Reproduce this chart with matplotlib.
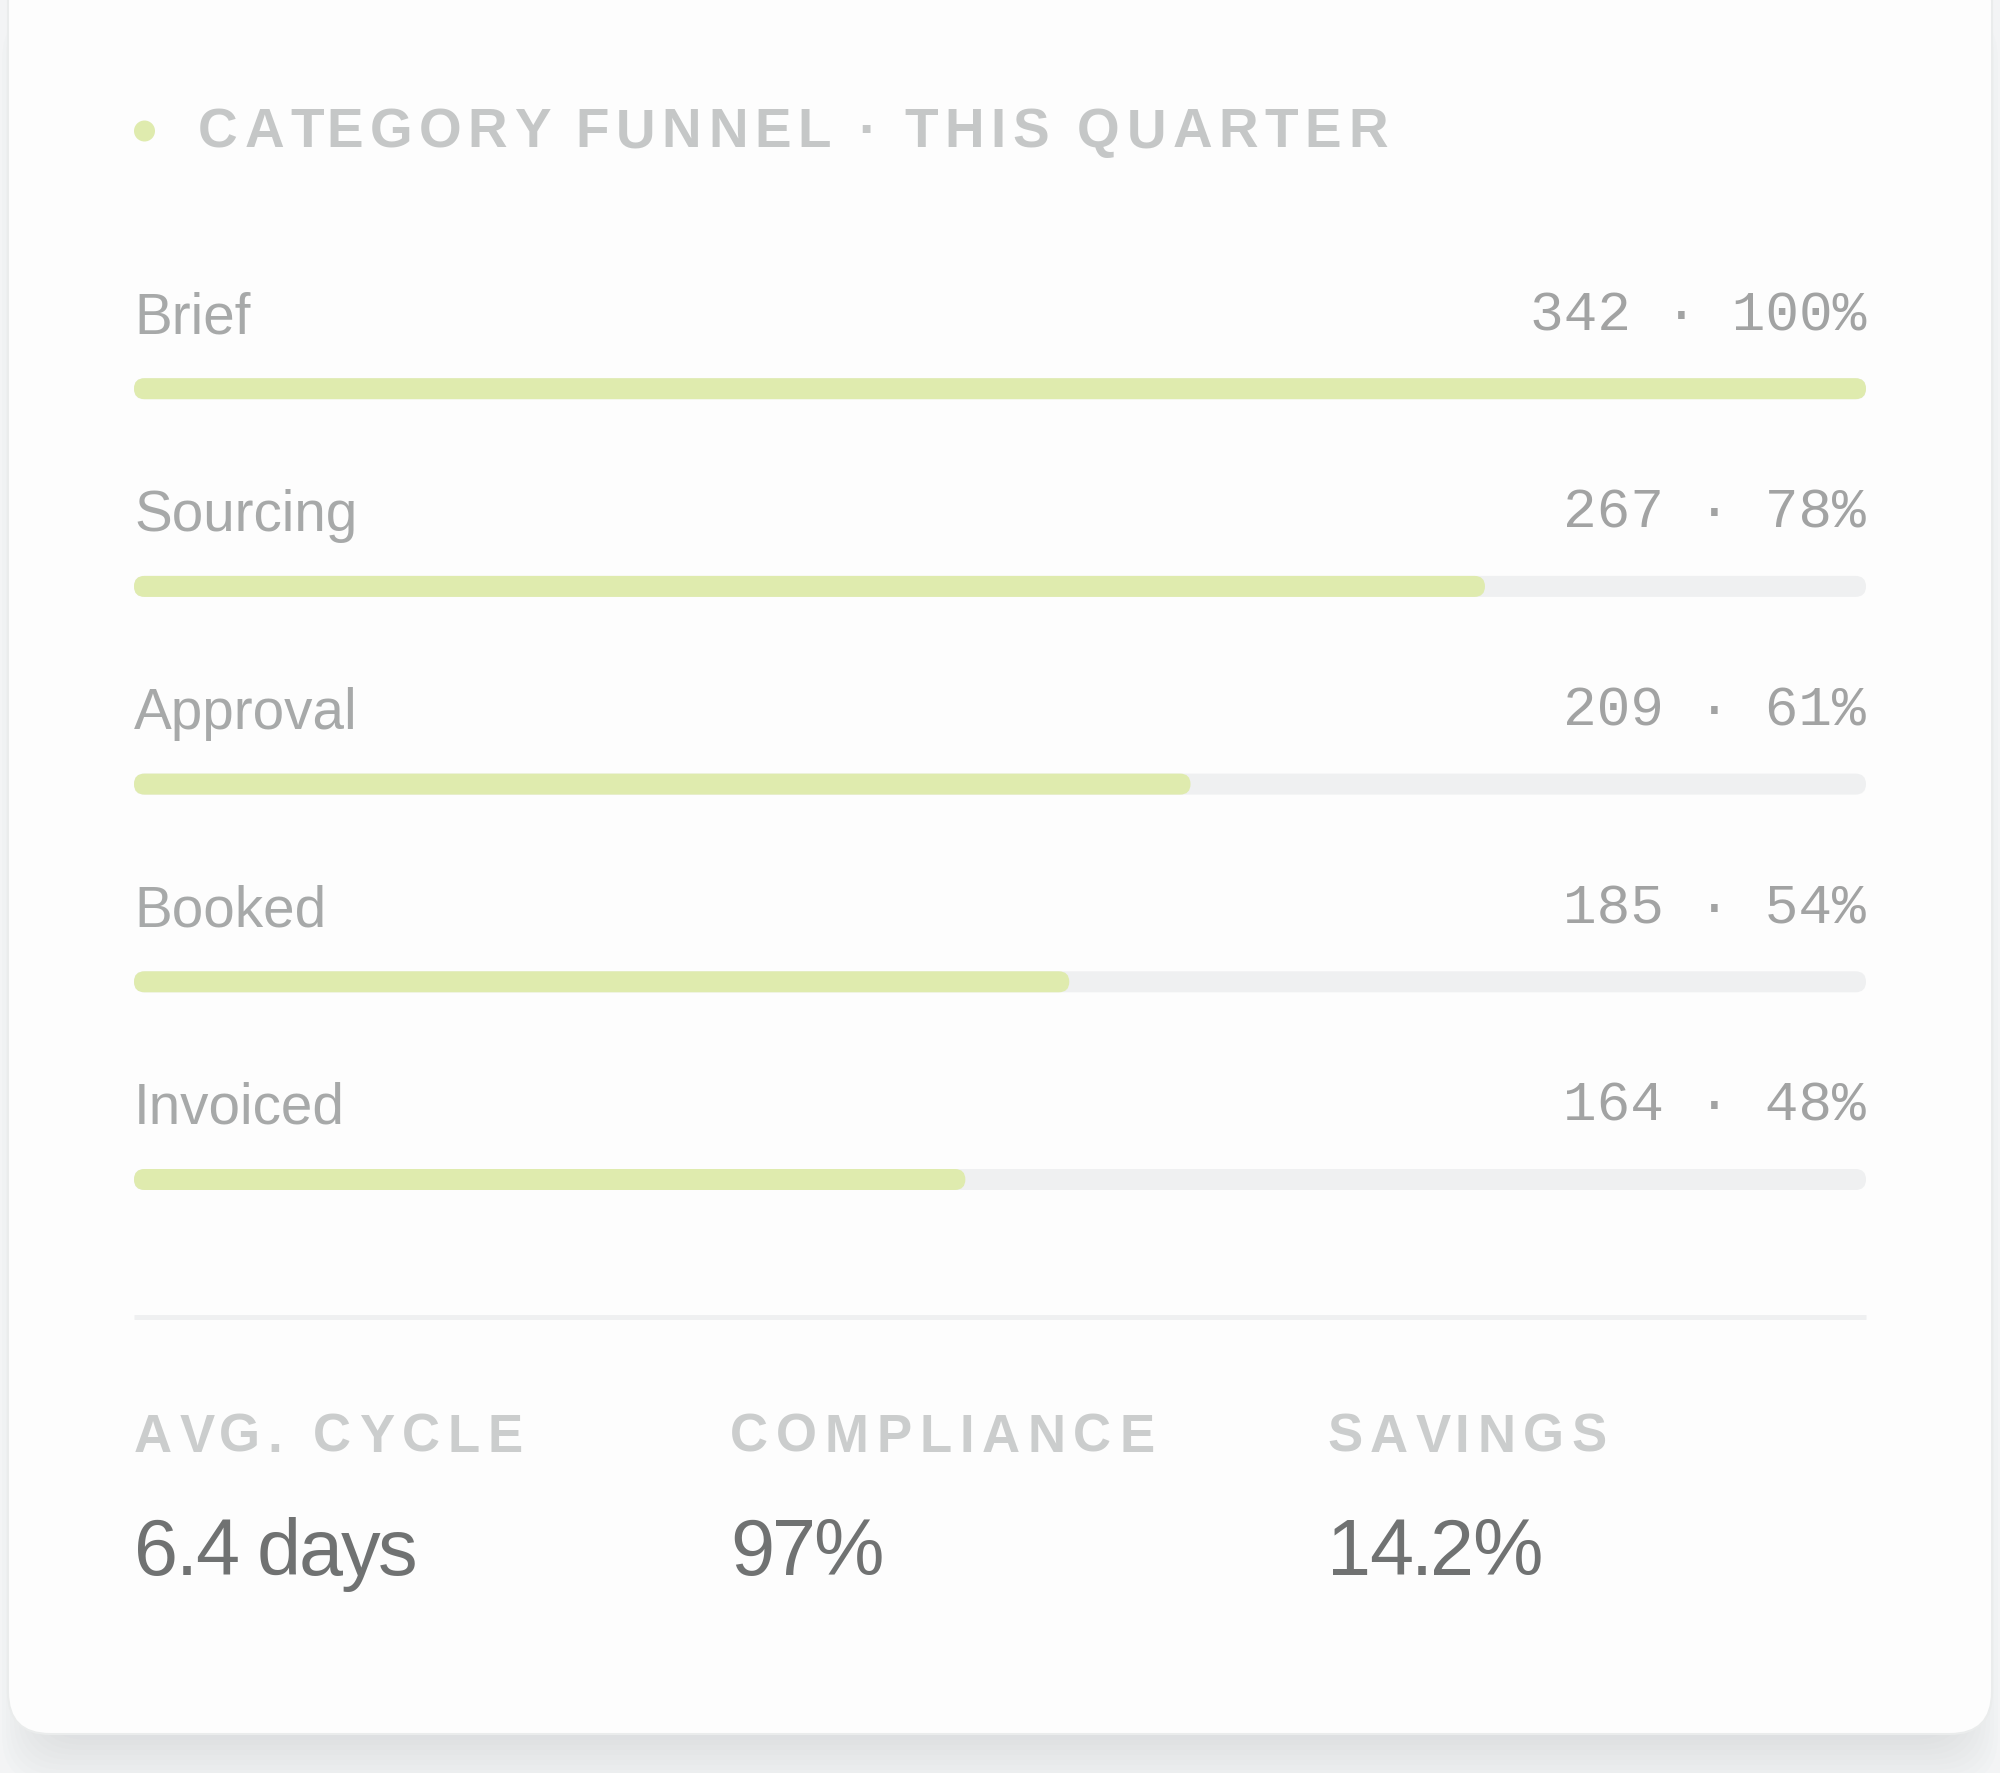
import matplotlib.pyplot as plt
from matplotlib.patches import FancyBboxPatch, Circle
from matplotlib.transforms import offset_copy

# funnel data
stages = ["Brief", "Sourcing", "Approval", "Booked", "Invoiced"]
counts = [342, 267, 209, 185, 164]
shares = [100, 78, 61, 54, 48]

# footer kpis
kpi_labels = ["AVG. CYCLE", "COMPLIANCE", "SAVINGS"]
kpi_values = ["6.4 days", "97%", "14.2%"]

title = "CATEGORY FUNNEL · THIS QUARTER"

GREEN = "#dfebae"
TRACK = "#eff0f1"
SANS = "Liberation Sans"
MONO = "Liberation Mono"

W, H, DPI = 2000, 1774, 100
fig = plt.figure(figsize=(W / DPI, H / DPI), dpi=DPI, facecolor="#f3f4f5")

# pixel canvas for card / title / footer
bg = fig.add_axes([0, 0, 1, 1])
bg.set_xlim(0, W)
bg.set_ylim(H, 0)
bg.axis("off")

# soft shadow under the card
for k in range(10):
    bg.add_patch(FancyBboxPatch((8 + 30 - k * 4, -40 + 6 + k * 5), 1984 - 60 + k * 8, 1775,
                                boxstyle="round,pad=0,rounding_size=50",
                                fc="#c4c8cc", ec="none", alpha=0.045))
bg.add_patch(FancyBboxPatch((8, -40), 1984, 1775, boxstyle="round,pad=0,rounding_size=42",
                            fc="#fdfdfd", ec="#eaecec", lw=1.5))

renderer = fig.canvas.get_renderer()


def tracked(x, y, s, track, **kw):
    """draw text char by char with extra letter spacing (px)"""
    probe = bg.text(0, 0, "|", **kw)
    base = probe.get_window_extent(renderer).width
    probe.remove()
    for k, ch in enumerate(s):
        if ch == " ":
            continue
        probe = bg.text(0, 0, s[:k] + "|", **kw)
        off = probe.get_window_extent(renderer).width - base if k else 0
        probe.remove()
        bg.text(x + off + k * track, y, ch, ha="left", va="baseline", **kw)


# title
bg.add_patch(Circle((144.5, 132), 10.5, fc=GREEN, ec="none"))
tracked(198, 147, title, 6.5, fontsize=39.5, fontweight="bold", color="#c5c7c7", family=SANS)

# funnel bars
x0, x1 = 134, 1866
row0, step, bar_px = 389.7, 197.7, 21
top_px, bot_px = 200, 1280
ax = fig.add_axes([x0 / W, 1 - bot_px / H, (x1 - x0) / W, (bot_px - top_px) / H])
ax.set_xlim(0, 100)
ax.set_ylim((bot_px - row0) / step, (top_px - row0) / step)
ax.axis("off")

n = len(stages)
bar_h = bar_px / step
px_x = (x1 - x0) / 100.0
aspect = px_x / step
tracks = ax.barh(range(n), [100] * n, height=bar_h, color=TRACK)
fills = ax.barh(range(n), shares, height=bar_h, color=GREEN)
for cont in (tracks, fills):
    for p in cont.patches:
        bx, by, bw, bh = p.get_x(), p.get_y(), p.get_width(), p.get_height()
        p.set_visible(False)
        ax.add_patch(FancyBboxPatch((bx, by), bw, bh,
                                    boxstyle=f"round,pad=0,rounding_size={bar_px / 2 / px_x}",
                                    mutation_aspect=aspect, fc=p.get_facecolor(), ec="none"))

lab_tr = offset_copy(ax.transData, fig=fig, y=56.5, units="dots")
val_tr = offset_copy(ax.transData, fig=fig, y=59.5, units="dots")
for i, (name, c, s) in enumerate(zip(stages, counts, shares)):
    ax.text(0, i, name, transform=lab_tr, ha="left", va="baseline",
            fontsize=40.8, color="#a7a9a9", family=SANS)
    ax.text(100, i, f"{c} · {s}%", transform=val_tr, ha="right", va="baseline",
            fontsize=40.4, color="#a2a3a3", family=MONO)

# divider + kpis
bg.plot([x0, x1], [1318, 1318], color="#eff0f1", lw=3.5, solid_capstyle="butt")
kpi_x = [134, 730, 1327]
for kx, lab, val in zip(kpi_x, kpi_labels, kpi_values):
    tracked(kx, 1452, lab, 7.8, fontsize=38, fontweight="bold", color="#cbcdcd", family=SANS)
    tracked(kx, 1575, val, -2.3, fontsize=57, color="#707272", family=SANS)

fig.savefig("out.png", dpi=DPI, facecolor=fig.get_facecolor())
